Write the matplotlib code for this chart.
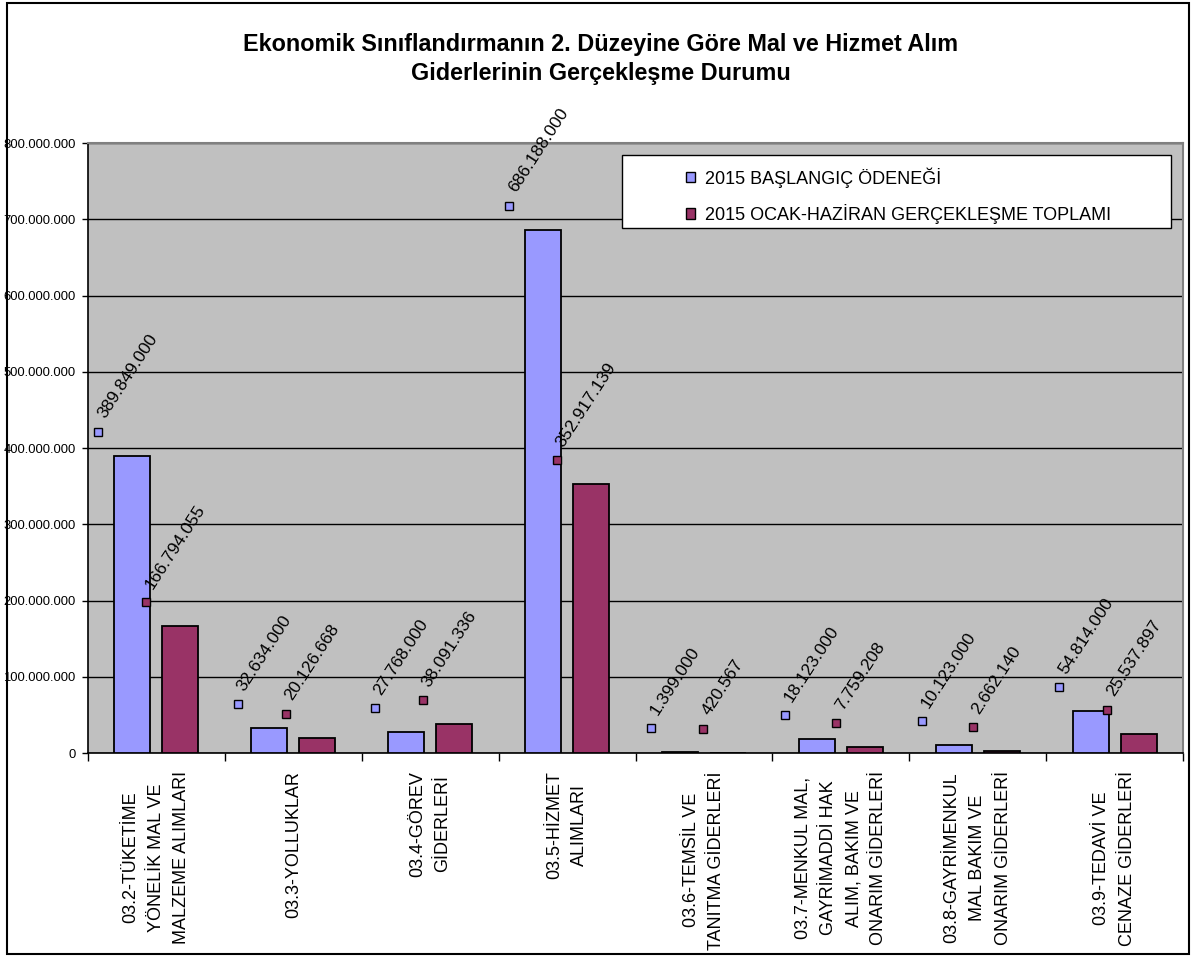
# Mal ve hizmet alım giderleri - gruplu çubuk grafik
import matplotlib
matplotlib.use('Agg')
import matplotlib.pyplot as plt
import matplotlib.transforms as mtransforms
from matplotlib.patches import Patch, Rectangle
from matplotlib.font_manager import FontProperties
import numpy as np

plt.rcParams['font.family'] = ['Liberation Sans', 'DejaVu Sans']

# veriler
kategoriler = ['03.2-TÜKETİME\nYÖNELİK MAL VE\nMALZEME ALIMLARI',
               '03.3-YOLLUKLAR',
               '03.4-GÖREV\nGİDERLERİ',
               '03.5-HİZMET\nALIMLARI',
               '03.6-TEMSİL VE\nTANITMA GİDERLERİ',
               '03.7-MENKUL MAL,\nGAYRİMADDİ HAK\nALIM, BAKIM VE\nONARIM GİDERLERİ',
               '03.8-GAYRİMENKUL\nMAL BAKIM VE\nONARIM GİDERLERİ',
               '03.9-TEDAVİ VE\nCENAZE GİDERLERİ']
baslangic = [389849000, 32634000, 27768000, 686188000, 1399000, 18123000, 10123000, 54814000]
gerceklesme = [166794055, 20126668, 38091336, 352917139, 420567, 7759208, 2662140, 25537897]
seri_adlari = ['2015 BAŞLANGIÇ ÖDENEĞİ', '2015 OCAK-HAZİRAN GERÇEKLEŞME TOPLAMI']
renkler = ['#9999FF', '#993366']
y_ticks = [0, 100000000, 200000000, 300000000, 400000000, 500000000, 600000000, 700000000, 800000000]
baslik = 'Ekonomik Sınıflandırmanın 2. Düzeyine Göre Mal ve Hizmet Alım\nGiderlerinin Gerçekleşme Durumu'


def nokta(v):
    # binlik ayırıcı olarak nokta
    return f'{v:,}'.replace(',', '.')


W, H = 1196, 956
fig = plt.figure(figsize=(W / 100, H / 100), dpi=100)
ax = fig.add_axes([88 / W, 1 - 753 / H, (1183 - 88) / W, (753 - 143) / H])
ax.set_facecolor('#C0C0C0')

x = np.arange(len(kategoriler))
genislik = 0.263
kayma = 0.175
konumlar = [x - kayma, x + kayma]
for xs, vals, c, ad in zip(konumlar, [baslangic, gerceklesme], renkler, seri_adlari):
    ax.bar(xs, vals, genislik, color=c, edgecolor='black', linewidth=1.3, label=ad, zorder=3)

ax.set_xlim(-0.5, len(kategoriler) - 0.5)
ax.set_ylim(0, 800000000)
ax.set_yticks(y_ticks)
ax.set_yticklabels([nokta(v) for v in y_ticks], fontsize=9.4)
ax.yaxis.grid(True, color='black', linewidth=1.0)
ax.set_axisbelow(True)
ax.tick_params(axis='y', length=4, width=1, pad=5)

ax.set_xticks(x)
ax.set_xticklabels(kategoriler, rotation=90, fontsize=13, ha='center', va='top',
                   multialignment='center', linespacing=1.65)
ax.set_xticks(np.arange(len(kategoriler) + 1) - 0.5, minor=True)
ax.tick_params(axis='x', which='major', length=0, pad=13)
ax.tick_params(axis='x', which='minor', length=6, width=1)

for s in ['left', 'bottom']:
    ax.spines[s].set_color('black')
    ax.spines[s].set_linewidth(1.2)
for s in ['top', 'right']:
    ax.spines[s].set_color('#808080')
    ax.spines[s].set_linewidth(1.5)

# veri etiketleri (Excel tarzı, eğik ve gösterge kutucuklu)
fig.canvas.draw()
renderer = fig.canvas.get_renderer()
fp = FontProperties(family=['Liberation Sans'], size=12.5)
aci = 57
a = np.deg2rad(aci)
u = np.array([np.cos(a), np.sin(a)])
v = np.array([-np.sin(a), np.cos(a)])
for xs, vals, c in zip(konumlar, [baslangic, gerceklesme], renkler):
    for xi, val in zip(xs, vals):
        s = nokta(val)
        tw = renderer.get_text_width_height_descent(s, fp, ismath=False)[0]
        mx = -0.2725 * (tw + 14) - 4
        my = 24
        tr = mtransforms.offset_copy(ax.transData, fig=fig, x=mx, y=my, units='dots')
        ax.plot(xi, val, marker='s', ms=5.8, mfc=c, mec='black', mew=1.0,
                transform=tr, clip_on=False, zorder=5)
        tx, ty = np.array([mx, my]) + 14 * u + 1 * v
        ax.annotate(s, (xi, val), xytext=(tx, ty), textcoords='offset pixels',
                    rotation=aci, rotation_mode='anchor', ha='left', va='baseline',
                    fontsize=12.5, annotation_clip=False, zorder=6)

# başlık
fig.text(601 / W, 1 - 59 / H, baslik, ha='center', va='center', fontsize=16.8,
         fontweight='bold', linespacing=1.3)

# gösterge
fig.patches.append(Rectangle((622 / W, 1 - 228 / H), (1171 - 622) / W, (228 - 155) / H,
                             transform=fig.transFigure, facecolor='white',
                             edgecolor='black', linewidth=1.0, zorder=1))
tutamac = [Patch(facecolor=c, edgecolor='black', linewidth=1.0) for c in renkler]
leg = fig.legend(tutamac, seri_adlari, loc='upper left',
                 bbox_to_anchor=(686 / W, 1 - 167 / H), frameon=False, fontsize=13,
                 handlelength=0.52, handleheight=0.52, handletextpad=0.55,
                 labelspacing=0.9, borderpad=0, borderaxespad=0)
leg.set_zorder(2)

# dış çerçeve
fig.patches.append(Rectangle((7 / W, 1 - 954 / H), (1189 - 7) / W, (954 - 3) / H,
                             transform=fig.transFigure, facecolor='none',
                             edgecolor='black', linewidth=1.5))

fig.savefig('out.png', dpi=100)
